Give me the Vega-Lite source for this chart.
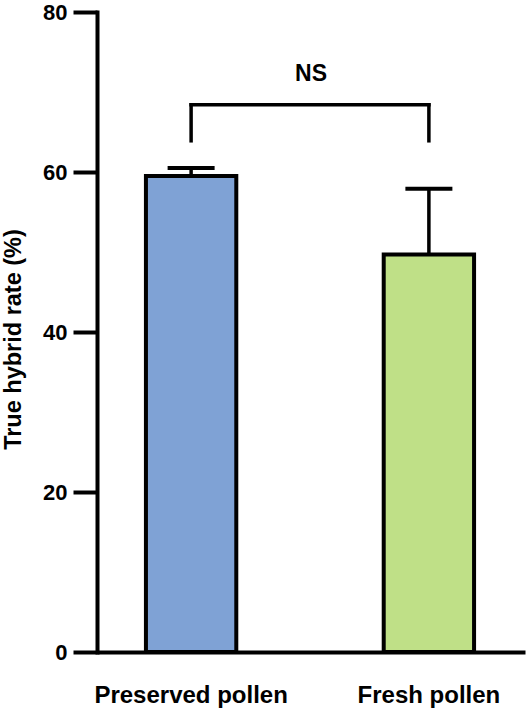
{
  "$schema": "https://vega.github.io/schema/vega-lite/v6.json",
  "width": 428,
  "height": 640,
  "autosize": {"type": "none"},
  "padding": {"left": 97, "top": 12, "right": 4, "bottom": 60},
  "background": "white",
  "config": {
    "view": {"stroke": null},
    "font": "Liberation Sans",
    "axisX": {"title": null, "labelAngle": 0, "ticks": false, "tickSize": 0, "domainWidth": 4, "domainColor": "black", "labelFontSize": 24, "labelFontWeight": "bold", "labelColor": "black", "labelPadding": 31, "labelFont": "Liberation Sans", "labelLimit": 400},
    "axisY": {"grid": false, "tickSize": 24, "tickWidth": 4, "tickColor": "black", "domainWidth": 4, "domainColor": "black", "domainCap": "square", "labelFontSize": 22, "labelFontWeight": "bold", "labelColor": "black", "labelPadding": 6, "labelFont": "Liberation Sans", "titleFontSize": 23.5, "titleFontWeight": "bold", "titleColor": "black", "titleFont": "Liberation Sans", "titlePadding": 17, "titleY": 327}
  },
  "title": {"text": "NS", "fontSize": 23, "fontWeight": "bold", "font": "Liberation Sans", "color": "black", "anchor": "middle", "frame": "group", "offset": -75, "dy": 10},
  "datasets": {
    "bars": [
      {"group": "Preserved pollen", "mean": 59.5, "upper": 60.5},
      {"group": "Fresh pollen", "mean": 49.7, "upper": 57.9}
    ],
    "bracketTop": [
      {"group": "Preserved pollen", "group2": "Fresh pollen", "level": 68.4}
    ],
    "bracketLegs": [
      {"group": "Preserved pollen", "low": 63.9, "level": 68.4},
      {"group": "Fresh pollen", "low": 63.9, "level": 68.4}
    ]
  },
  "layer": [
    {
      "data": {"name": "bars"},
      "mark": {"type": "rule", "strokeWidth": 3.5, "color": "black", "opacity": 1},
      "encoding": {
        "x": {
          "field": "group", "type": "nominal", "title": null,
          "scale": {"domain": ["Preserved pollen", "Fresh pollen"], "paddingInner": 0.62, "paddingOuter": 0.21, "align": 0.49}
        },
        "y": {
          "field": "mean", "type": "quantitative", "title": "True hybrid rate (%)",
          "scale": {"domain": [0, 80], "nice": false},
          "axis": {"values": [0, 20, 40, 60, 80]}
        },
        "y2": {"field": "upper"}
      }
    },
    {
      "data": {"name": "bars"},
      "mark": {"type": "tick", "size": 47, "thickness": 4, "color": "black", "opacity": 1},
      "encoding": {
        "x": {"field": "group", "type": "nominal", "title": null},
        "y": {"field": "upper", "type": "quantitative", "title": "True hybrid rate (%)", "axis": {"values": [0, 20, 40, 60, 80]}}
      }
    },
    {
      "data": {"name": "bars"},
      "mark": {"type": "bar", "stroke": "black", "strokeWidth": 4, "opacity": 1},
      "encoding": {
        "x": {"field": "group", "type": "nominal", "title": null},
        "y": {"field": "mean", "type": "quantitative", "title": "True hybrid rate (%)", "axis": {"values": [0, 20, 40, 60, 80]}},
        "color": {"field": "group", "type": "nominal", "scale": {"domain": ["Preserved pollen", "Fresh pollen"], "range": ["#7FA2D5", "#BFE087"]}, "legend": null}
      }
    },
    {
      "data": {"name": "bracketTop"},
      "mark": {"type": "rule", "strokeWidth": 3.5, "color": "black", "strokeCap": "square", "opacity": 1},
      "encoding": {
        "x": {"field": "group", "type": "nominal", "title": null},
        "x2": {"field": "group2"},
        "y": {"field": "level", "type": "quantitative", "title": "True hybrid rate (%)", "axis": {"values": [0, 20, 40, 60, 80]}}
      }
    },
    {
      "data": {"name": "bracketLegs"},
      "mark": {"type": "rule", "strokeWidth": 3.5, "color": "black", "strokeCap": "square", "opacity": 1},
      "encoding": {
        "x": {"field": "group", "type": "nominal", "title": null},
        "y": {"field": "low", "type": "quantitative", "title": "True hybrid rate (%)", "axis": {"values": [0, 20, 40, 60, 80]}},
        "y2": {"field": "level"}
      }
    }
  ]
}
